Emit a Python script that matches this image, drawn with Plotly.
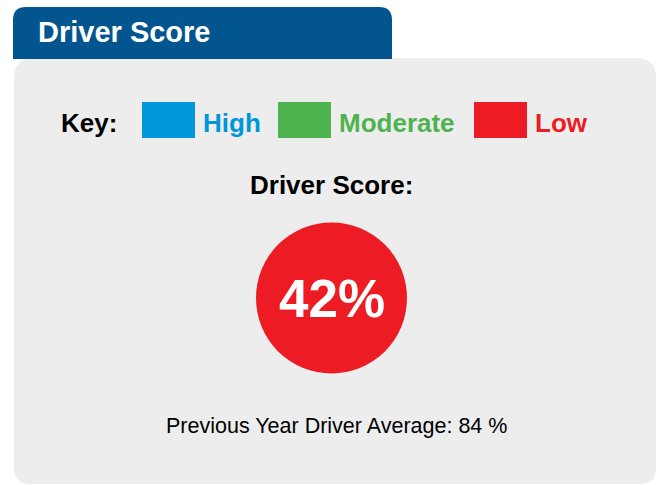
import plotly.graph_objects as go

# ---- data ----
title_text = "Driver Score"
key_categories = ["High", "Moderate", "Low"]
key_colors = ["#0096DA", "#4EB34F", "#ED1C24"]
score_label = "Driver Score:"
driver_score = 42
score_category = "Low"
previous_year_average = 84

W, H = 661, 485
FONT = "Arial, 'Liberation Sans', Helvetica, sans-serif"

def rounded_rect(x0, y0, x1, y1, r_top, r_bot):
    # y axis reversed: y0 top, y1 bottom
    p = f"M {x0+r_top},{y0} L {x1-r_top},{y0} Q {x1},{y0} {x1},{y0+r_top} "
    p += f"L {x1},{y1-r_bot} Q {x1},{y1} {x1-r_bot},{y1} "
    p += f"L {x0+r_bot},{y1} Q {x0},{y1} {x0},{y1-r_bot} "
    p += f"L {x0},{y0+r_top} Q {x0},{y0} {x0+r_top},{y0} Z"
    return p

fig = go.Figure()

shapes = []
# grey panel
shapes.append(dict(type="path", xref="x", yref="y",
                   path=rounded_rect(14, 58, 656, 484, 20, 16),
                   fillcolor="#EDEDED", line=dict(width=0), layer="below"))
# header tab
shapes.append(dict(type="path", xref="x", yref="y",
                   path=rounded_rect(13, 7, 392, 59, 13, 0),
                   fillcolor="#03558F", line=dict(width=0), layer="below"))

annotations = []
annotations.append(dict(x=36, y=32, xref="x", yref="y", text=f"<b>{title_text}</b>",
                        showarrow=False, xanchor="left", yanchor="middle",
                        font=dict(family=FONT, size=29, color="white")))

# key
annotations.append(dict(x=59, y=123, xref="x", yref="y", text="<b>Key:</b>",
                        showarrow=False, xanchor="left", yanchor="middle",
                        font=dict(family=FONT, size=26, color="black")))
swatch_x = [142, 278, 474]
for cat, col, sx in zip(key_categories, key_colors, swatch_x):
    shapes.append(dict(type="rect", xref="x", yref="y", x0=sx, x1=sx + 53, y0=102, y1=138,
                       fillcolor=col, line=dict(width=0)))
    annotations.append(dict(x=sx + 59, y=123, xref="x", yref="y", text=f"<b>{cat}</b>",
                            showarrow=False, xanchor="left", yanchor="middle",
                            font=dict(family=FONT, size=26, color=col)))

annotations.append(dict(x=331.5, y=185, xref="x", yref="y", text=f"<b>{score_label}</b>",
                        showarrow=False, xanchor="center", yanchor="middle",
                        font=dict(family=FONT, size=26, color="black")))

score_color = key_colors[key_categories.index(score_category)]
fig.add_trace(go.Scatter(x=[331.5], y=[298], mode="markers",
                         marker=dict(size=151, color=score_color, line=dict(width=0)),
                         hoverinfo="skip", showlegend=False))
annotations.append(dict(x=331.5, y=298, xref="x", yref="y", text=f"<b>{driver_score}%</b>",
                        showarrow=False, xanchor="center", yanchor="middle",
                        font=dict(family=FONT, size=53, color="white")))

annotations.append(dict(x=336, y=425.5, xref="x", yref="y",
                        text=f"Previous Year Driver Average: {previous_year_average} %",
                        showarrow=False, xanchor="center", yanchor="middle",
                        font=dict(family=FONT, size=21.5, color="black")))

fig.update_layout(
    width=W, height=H, margin=dict(l=0, r=0, t=0, b=0),
    paper_bgcolor="white", plot_bgcolor="white",
    xaxis=dict(range=[0, W], visible=False, fixedrange=True),
    yaxis=dict(range=[H, 0], visible=False, fixedrange=True),
    shapes=shapes, annotations=annotations, showlegend=False,
)

fig.write_html("out.html", config={"displayModeBar": False},
               post_script="document.body.style.margin='0';document.body.style.overflow='hidden';")
